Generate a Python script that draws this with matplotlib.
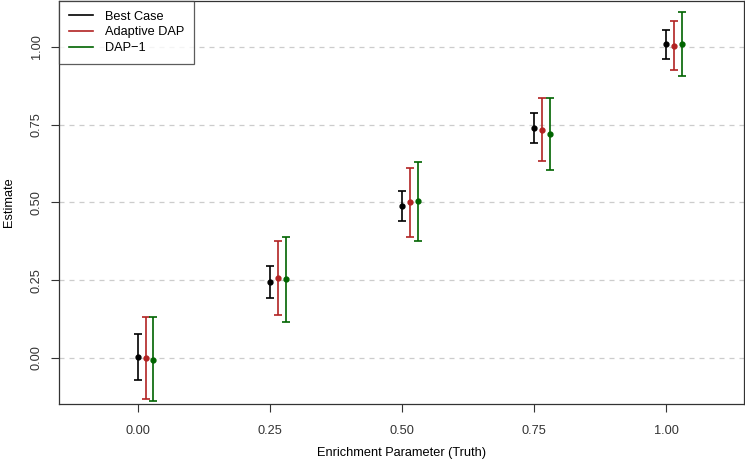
import matplotlib
matplotlib.use("Agg")
import matplotlib.pyplot as plt
from matplotlib.lines import Line2D
import numpy as np

plt.rcParams['font.family'] = ['Liberation Sans', 'DejaVu Sans']

truth = [0.00, 0.25, 0.50, 0.75, 1.00]
tick_labels = ['0.00', '0.25', '0.50', '0.75', '1.00']

series_names = ['Best Case', 'Adaptive DAP', 'DAP\u22121']
series_colors = ['black', '#B22222', '#006400']
series_offsets = [0.0, 0.015, 0.03]

best_est = [0.004, 0.244, 0.489, 0.739, 1.010]
best_lo = [-0.072, 0.193, 0.440, 0.690, 0.961]
best_hi = [0.078, 0.296, 0.537, 0.788, 1.056]

adap_est = [0.001, 0.257, 0.502, 0.734, 1.003]
adap_lo = [-0.131, 0.138, 0.389, 0.634, 0.925]
adap_hi = [0.133, 0.376, 0.611, 0.835, 1.082]

dap1_est = [-0.005, 0.254, 0.505, 0.720, 1.011]
dap1_lo = [-0.139, 0.116, 0.376, 0.605, 0.908]
dap1_hi = [0.131, 0.389, 0.630, 0.837, 1.112]

fig = plt.figure(figsize=(7.45, 4.66), dpi=100)
ax = fig.add_axes([0.0797, 0.133, 0.9193, 0.865])

for y in [0.0, 0.25, 0.5, 0.75, 1.0]:
    ax.axhline(y, color='#cccccc', linestyle=(0, (4, 4)), linewidth=0.9, zorder=0)

groups = [(best_est, best_lo, best_hi), (adap_est, adap_lo, adap_hi), (dap1_est, dap1_lo, dap1_hi)]
for (est, lo, hi), col, off in zip(groups, series_colors, series_offsets):
    est = np.array(est)
    x = np.array(truth) + off
    yerr = [est - np.array(lo), np.array(hi) - est]
    ax.errorbar(x, est, yerr=yerr, fmt='o', color=col, ms=3.5, capsize=3,
                elinewidth=1.2, capthick=1.2, zorder=3)

ax.set_xlim(-0.148, 1.148)
ax.set_ylim(-0.148, 1.148)
ax.set_xticks(truth)
ax.set_xticklabels(tick_labels)
ax.set_yticks(truth)
ax.set_yticklabels(tick_labels, rotation=90, va='center')
ax.tick_params(axis='both', length=6, width=0.8, labelsize=9.2, colors='#333333')
ax.tick_params(axis='y', pad=6)
ax.tick_params(axis='x', pad=9)
for s in ax.spines.values():
    s.set_linewidth(0.9)
    s.set_color('#333333')

ax.set_xlabel('Enrichment Parameter (Truth)', fontsize=9.2, labelpad=7)
ax.set_ylabel('Estimate', fontsize=9.2, labelpad=11)

handles = [Line2D([0], [0], color=c, lw=1.2) for c in series_colors]
leg = ax.legend(handles, series_names, loc='upper left', fontsize=9.2, frameon=True,
                fancybox=False, edgecolor='#333333', borderaxespad=0, handlelength=1.9,
                handletextpad=0.9, borderpad=0.75, labelspacing=0.3)
leg.get_frame().set_linewidth(0.9)

fig.savefig('out.png', dpi=100)
